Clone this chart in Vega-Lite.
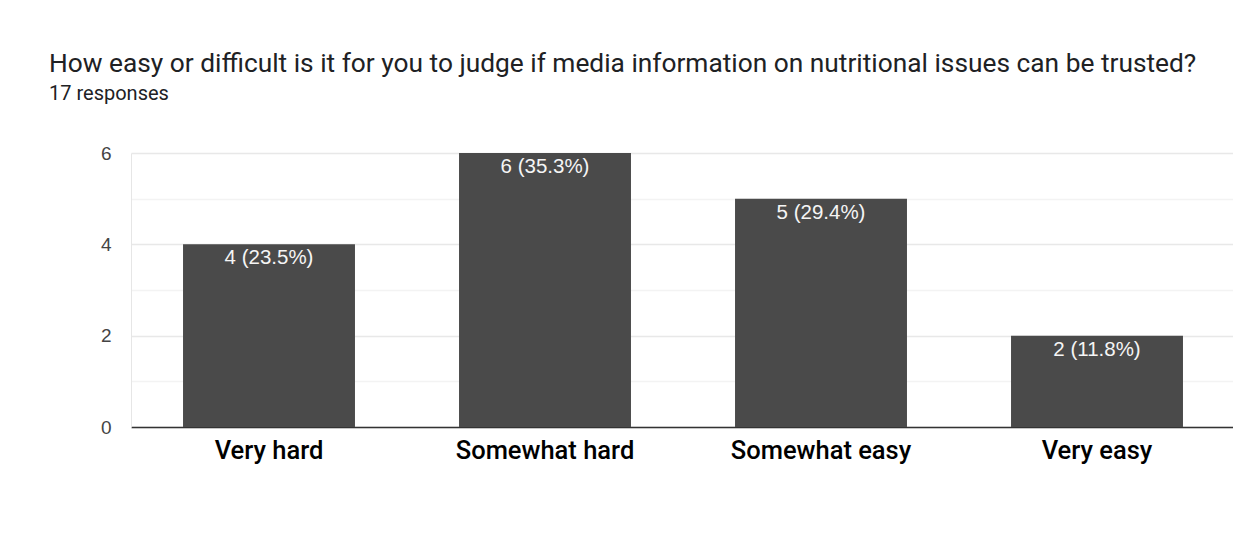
{
  "$schema": "https://vega.github.io/schema/vega-lite/v6.json",
  "autosize": {"type": "none"},
  "width": 1104,
  "height": 274,
  "padding": {"left": 131, "top": 153, "right": 0, "bottom": 110},
  "background": "white",
  "title": {
    "text": "How easy or difficult is it for you to judge if media information on nutritional issues can be trusted?",
    "subtitle": "17 responses",
    "anchor": "start",
    "frame": "group",
    "dx": -82,
    "font": "Roboto",
    "fontSize": 26.3,
    "fontWeight": "normal",
    "color": "#202124",
    "subtitleFont": "Roboto",
    "subtitleFontSize": 20,
    "subtitleColor": "#202124",
    "subtitlePadding": 7,
    "offset": 40
  },
  "data": {
    "values": [
      {"answer": "Very hard", "count": 4, "label": "4 (23.5%)"},
      {"answer": "Somewhat hard", "count": 6, "label": "6 (35.3%)"},
      {"answer": "Somewhat easy", "count": 5, "label": "5 (29.4%)"},
      {"answer": "Very easy", "count": 2, "label": "2 (11.8%)"}
    ]
  },
  "encoding": {
    "x": {
      "field": "answer",
      "type": "nominal",
      "sort": null,
      "scale": {"paddingInner": 0.377, "paddingOuter": 0.1885},
      "axis": {
        "title": null,
        "labelAngle": 0,
        "labelFont": "Roboto",
        "labelFontWeight": 500,
        "labelFontSize": 25.5,
        "labelColor": "#000000",
        "labelPadding": 11,
        "labelLimit": 400,
        "ticks": false,
        "domainColor": "#333333",
        "domainWidth": 1.5,
        "grid": false
      }
    },
    "y": {
      "field": "count",
      "type": "quantitative",
      "scale": {"domain": [0, 6]},
      "axis": {
        "title": null,
        "values": [0, 1, 2, 3, 4, 5, 6],
        "labelExpr": "datum.value % 2 === 0 ? datum.label : ''",
        "labelFont": "Liberation Sans",
        "labelFontSize": 19,
        "labelColor": "#444444",
        "labelPadding": 20,
        "ticks": false,
        "domainColor": "#e6e6e6",
        "domainWidth": 1,
        "grid": true,
        "gridColor": {"condition": {"test": "datum.value % 2 === 0", "value": "#e8e8e8"}, "value": "#f3f3f3"},
        "gridWidth": 1.5
      }
    }
  },
  "layer": [
    {"mark": {"type": "bar", "color": "#4a4a4a"}},
    {
      "mark": {"type": "text", "baseline": "top", "dy": 4, "color": "#f5f5f5", "font": "Liberation Sans", "fontSize": 20.5},
      "encoding": {"text": {"field": "label"}}
    }
  ],
  "config": {"view": {"stroke": null}}
}
